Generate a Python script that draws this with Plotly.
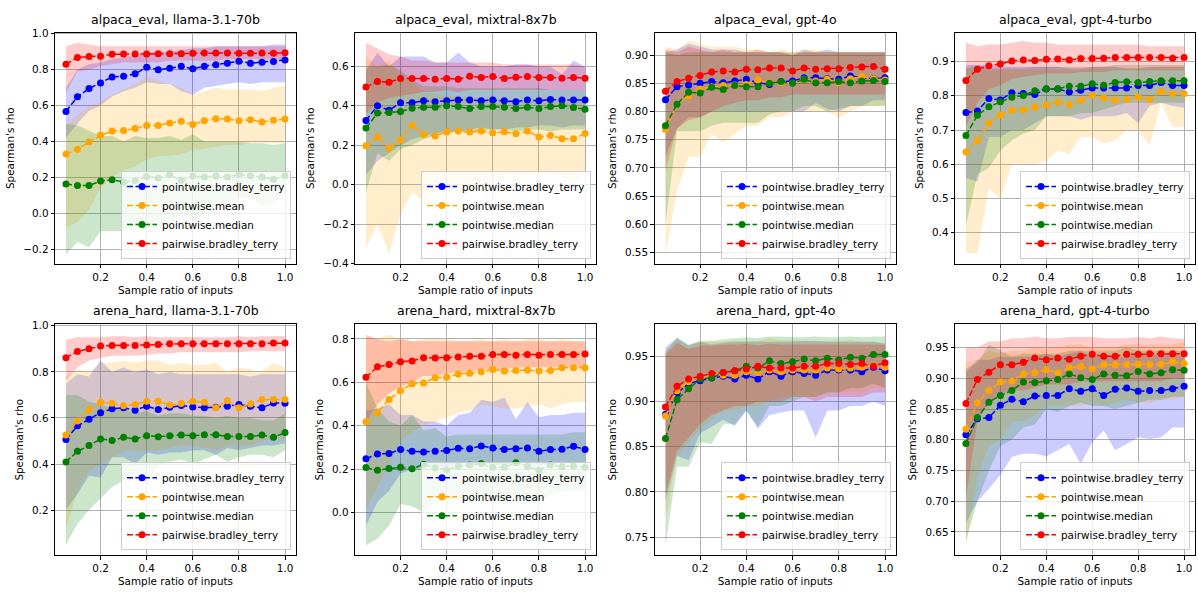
import plotly.graph_objects as go

# ---------------------------------------------------------------------------
# Sample ratios (x) shared by all panels
# ---------------------------------------------------------------------------
ratios = [0.05, 0.10, 0.15, 0.20, 0.25, 0.30, 0.35, 0.40, 0.45, 0.50,
          0.55, 0.60, 0.65, 0.70, 0.75, 0.80, 0.85, 0.90, 0.95, 1.00]

# ---------------------------------------------------------------------------
# alpaca_eval, llama-3.1-70b
# ---------------------------------------------------------------------------
ae_llama_pbt = [0.567, 0.649, 0.695, 0.726, 0.759, 0.763, 0.777, 0.814, 0.800, 0.808,
                0.819, 0.805, 0.819, 0.828, 0.836, 0.847, 0.836, 0.841, 0.845, 0.854]
ae_llama_pbt_lo = [0.42, 0.50, 0.57, 0.60, 0.65, 0.68, 0.70, 0.73, 0.72, 0.72,
                   0.68, 0.66, 0.70, 0.71, 0.72, 0.73, 0.72, 0.73, 0.73, 0.73]
ae_llama_pbt_hi = [0.70, 0.80, 0.83, 0.84, 0.86, 0.87, 0.88, 0.89, 0.90, 0.90,
                   0.91, 0.92, 0.92, 0.93, 0.93, 0.93, 0.93, 0.93, 0.94, 0.94]
ae_llama_pmean = [0.330, 0.357, 0.397, 0.434, 0.458, 0.461, 0.472, 0.489, 0.489, 0.503,
                  0.512, 0.494, 0.516, 0.527, 0.525, 0.516, 0.521, 0.509, 0.518, 0.525]
ae_llama_pmean_lo = [-0.08, -0.05, 0.02, 0.14, 0.20, 0.24, 0.26, 0.30, 0.32, 0.32,
                     0.33, 0.35, 0.36, 0.37, 0.38, 0.38, 0.39, 0.39, 0.39, 0.39]
ae_llama_pmean_hi = [0.49, 0.55, 0.60, 0.62, 0.66, 0.69, 0.72, 0.76, 0.74, 0.72,
                     0.70, 0.66, 0.68, 0.70, 0.69, 0.69, 0.69, 0.68, 0.70, 0.71]
ae_llama_pmed = [0.163, 0.154, 0.154, 0.180, 0.187, 0.174, 0.182, 0.205, 0.196, 0.215,
                 0.184, 0.207, 0.202, 0.207, 0.202, 0.216, 0.209, 0.202, 0.189, 0.209]
ae_llama_pmed_lo = [-0.23, -0.16, -0.19, -0.10, -0.10, -0.10, -0.09, -0.08, -0.07, -0.06,
                    0.00, -0.05, 0.00, 0.03, 0.06, 0.08, 0.09, 0.04, 0.05, 0.15]
ae_llama_pmed_hi = [0.50, 0.49, 0.46, 0.43, 0.43, 0.40, 0.43, 0.42, 0.42, 0.43,
                    0.41, 0.44, 0.40, 0.40, 0.40, 0.40, 0.39, 0.39, 0.38, 0.39]
ae_llama_pair = [0.830, 0.868, 0.873, 0.875, 0.886, 0.887, 0.887, 0.888, 0.889, 0.889,
                 0.889, 0.891, 0.893, 0.893, 0.893, 0.892, 0.891, 0.893, 0.892, 0.894]
ae_llama_pair_lo = [0.67, 0.79, 0.80, 0.82, 0.83, 0.84, 0.84, 0.84, 0.84, 0.85,
                    0.85, 0.85, 0.85, 0.85, 0.86, 0.86, 0.86, 0.86, 0.86, 0.86]
ae_llama_pair_hi = [0.93, 0.95, 0.94, 0.93, 0.93, 0.93, 0.93, 0.93, 0.93, 0.93,
                    0.93, 0.93, 0.93, 0.93, 0.93, 0.93, 0.93, 0.93, 0.93, 0.93]

# ---------------------------------------------------------------------------
# alpaca_eval, mixtral-8x7b
# ---------------------------------------------------------------------------
ae_mixtral_pbt = [0.325, 0.401, 0.377, 0.416, 0.416, 0.426, 0.421, 0.426, 0.429, 0.429,
                  0.426, 0.429, 0.426, 0.421, 0.429, 0.426, 0.432, 0.429, 0.429, 0.429]
ae_mixtral_pbt_lo = [0.05, 0.12, 0.16, 0.20, 0.23, 0.25, 0.26, 0.27, 0.27, 0.28,
                     0.29, 0.28, 0.28, 0.29, 0.29, 0.30, 0.30, 0.29, 0.30, 0.30]
ae_mixtral_pbt_hi = [0.58, 0.67, 0.60, 0.65, 0.65, 0.65, 0.62, 0.62, 0.67, 0.62,
                     0.60, 0.60, 0.60, 0.61, 0.61, 0.60, 0.60, 0.56, 0.63, 0.60]
ae_mixtral_pmean = [0.197, 0.243, 0.185, 0.227, 0.301, 0.255, 0.247, 0.267, 0.272, 0.267,
                    0.272, 0.263, 0.268, 0.258, 0.272, 0.242, 0.250, 0.233, 0.233, 0.260]
ae_mixtral_pmean_lo = [-0.32, -0.20, -0.35, -0.15, -0.04, -0.08, -0.01, 0.00, 0.00, -0.04,
                       0.00, 0.01, 0.04, 0.05, 0.05, 0.04, 0.06, 0.04, 0.01, 0.06]
ae_mixtral_pmean_hi = [0.65, 0.60, 0.63, 0.55, 0.52, 0.47, 0.46, 0.45, 0.45, 0.44,
                       0.44, 0.44, 0.43, 0.43, 0.43, 0.43, 0.43, 0.42, 0.42, 0.43]
ae_mixtral_pmed = [0.288, 0.363, 0.366, 0.371, 0.388, 0.393, 0.393, 0.400, 0.396, 0.386,
                   0.396, 0.396, 0.393, 0.386, 0.393, 0.386, 0.396, 0.400, 0.391, 0.383]
ae_mixtral_pmed_lo = [-0.04, 0.16, 0.12, 0.18, 0.20, 0.23, 0.25, 0.26, 0.27, 0.26,
                      0.27, 0.28, 0.28, 0.27, 0.28, 0.28, 0.27, 0.28, 0.28, 0.28]
ae_mixtral_pmed_hi = [0.60, 0.60, 0.61, 0.58, 0.53, 0.50, 0.50, 0.50, 0.49, 0.49,
                      0.49, 0.49, 0.49, 0.49, 0.49, 0.49, 0.48, 0.48, 0.48, 0.48]
ae_mixtral_pair = [0.496, 0.524, 0.520, 0.539, 0.539, 0.539, 0.535, 0.539, 0.535, 0.550,
                   0.544, 0.549, 0.539, 0.545, 0.549, 0.544, 0.544, 0.540, 0.544, 0.540]
ae_mixtral_pair_lo = [0.36, 0.42, 0.44, 0.45, 0.46, 0.47, 0.47, 0.48, 0.47, 0.48,
                      0.48, 0.48, 0.48, 0.48, 0.48, 0.48, 0.48, 0.48, 0.48, 0.48]
ae_mixtral_pair_hi = [0.72, 0.69, 0.66, 0.65, 0.63, 0.63, 0.62, 0.62, 0.62, 0.62,
                      0.62, 0.62, 0.61, 0.61, 0.61, 0.61, 0.61, 0.61, 0.61, 0.60]

# ---------------------------------------------------------------------------
# alpaca_eval, gpt-4o
# ---------------------------------------------------------------------------
ae_gpt4o_pbt = [0.821, 0.844, 0.847, 0.850, 0.853, 0.851, 0.854, 0.857, 0.851, 0.848,
                0.853, 0.854, 0.860, 0.860, 0.858, 0.857, 0.863, 0.860, 0.858, 0.860]
ae_gpt4o_pbt_lo = [0.72, 0.77, 0.79, 0.79, 0.80, 0.80, 0.80, 0.80, 0.80, 0.80,
                   0.80, 0.80, 0.80, 0.815, 0.805, 0.80, 0.81, 0.81, 0.82, 0.82]
ae_gpt4o_pbt_hi = [0.905, 0.91, 0.92, 0.915, 0.91, 0.91, 0.91, 0.905, 0.905, 0.905,
                   0.905, 0.90, 0.91, 0.905, 0.91, 0.905, 0.905, 0.905, 0.905, 0.905]
ae_gpt4o_pmean = [0.768, 0.813, 0.828, 0.840, 0.844, 0.846, 0.847, 0.848, 0.856, 0.851,
                  0.851, 0.850, 0.857, 0.854, 0.857, 0.851, 0.858, 0.862, 0.858, 0.856]
ae_gpt4o_pmean_lo = [0.545, 0.66, 0.72, 0.72, 0.76, 0.745, 0.76, 0.775, 0.775, 0.79,
                     0.79, 0.80, 0.80, 0.80, 0.80, 0.79, 0.80, 0.81, 0.81, 0.81]
ae_gpt4o_pmean_hi = [0.915, 0.91, 0.925, 0.92, 0.915, 0.915, 0.915, 0.91, 0.91, 0.905,
                     0.91, 0.905, 0.91, 0.91, 0.905, 0.905, 0.905, 0.905, 0.905, 0.905]
ae_gpt4o_pmed = [0.775, 0.813, 0.834, 0.833, 0.843, 0.839, 0.846, 0.844, 0.844, 0.850,
                 0.853, 0.850, 0.857, 0.851, 0.851, 0.853, 0.851, 0.854, 0.855, 0.853]
ae_gpt4o_pmed_lo = [0.60, 0.765, 0.765, 0.765, 0.775, 0.78, 0.78, 0.78, 0.78, 0.795,
                    0.80, 0.80, 0.81, 0.81, 0.80, 0.805, 0.81, 0.81, 0.81, 0.81]
ae_gpt4o_pmed_hi = [0.905, 0.90, 0.905, 0.905, 0.905, 0.905, 0.905, 0.905, 0.905, 0.905,
                    0.905, 0.905, 0.905, 0.905, 0.905, 0.905, 0.905, 0.905, 0.905, 0.905]
ae_gpt4o_pair = [0.836, 0.853, 0.859, 0.864, 0.870, 0.872, 0.870, 0.875, 0.874, 0.877,
                 0.877, 0.872, 0.877, 0.875, 0.876, 0.876, 0.878, 0.879, 0.880, 0.875]
ae_gpt4o_pair_lo = [0.695, 0.77, 0.785, 0.79, 0.80, 0.81, 0.815, 0.82, 0.82, 0.825,
                    0.825, 0.83, 0.83, 0.83, 0.83, 0.83, 0.83, 0.83, 0.83, 0.83]
ae_gpt4o_pair_hi = [0.91, 0.905, 0.915, 0.91, 0.905, 0.91, 0.905, 0.905, 0.91, 0.905,
                    0.905, 0.90, 0.905, 0.905, 0.905, 0.905, 0.905, 0.905, 0.905, 0.905]

# ---------------------------------------------------------------------------
# alpaca_eval, gpt-4-turbo
# ---------------------------------------------------------------------------
ae_gpt4t_pbt = [0.751, 0.756, 0.792, 0.788, 0.809, 0.807, 0.804, 0.820, 0.820, 0.811,
                0.816, 0.823, 0.823, 0.823, 0.823, 0.830, 0.830, 0.839, 0.830, 0.830]
ae_gpt4t_pbt_lo = [0.56, 0.55, 0.68, 0.68, 0.70, 0.70, 0.72, 0.74, 0.74, 0.74,
                   0.73, 0.74, 0.74, 0.74, 0.75, 0.72, 0.77, 0.78, 0.77, 0.765]
ae_gpt4t_pbt_hi = [0.89, 0.89, 0.89, 0.885, 0.885, 0.885, 0.885, 0.885, 0.885, 0.88,
                   0.88, 0.885, 0.885, 0.885, 0.88, 0.88, 0.885, 0.885, 0.885, 0.885]
ae_gpt4t_pmean = [0.636, 0.669, 0.720, 0.744, 0.758, 0.759, 0.767, 0.773, 0.782, 0.775,
                  0.787, 0.802, 0.794, 0.787, 0.789, 0.796, 0.789, 0.813, 0.806, 0.806]
ae_gpt4t_pmean_lo = [0.34, 0.34, 0.53, 0.50, 0.60, 0.60, 0.60, 0.61, 0.64, 0.63,
                     0.68, 0.68, 0.66, 0.67, 0.70, 0.70, 0.655, 0.78, 0.71, 0.71]
ae_gpt4t_pmean_hi = [0.88, 0.88, 0.875, 0.875, 0.875, 0.875, 0.875, 0.875, 0.875, 0.875,
                     0.875, 0.88, 0.88, 0.88, 0.88, 0.88, 0.88, 0.885, 0.885, 0.885]
ae_gpt4t_pmed = [0.684, 0.743, 0.768, 0.783, 0.796, 0.801, 0.815, 0.821, 0.821, 0.828,
                 0.828, 0.835, 0.831, 0.839, 0.841, 0.839, 0.842, 0.844, 0.844, 0.844]
ae_gpt4t_pmed_lo = [0.42, 0.57, 0.59, 0.64, 0.67, 0.69, 0.70, 0.74, 0.74, 0.74,
                    0.75, 0.75, 0.76, 0.77, 0.78, 0.78, 0.78, 0.78, 0.78, 0.78]
ae_gpt4t_pmed_hi = [0.88, 0.89, 0.88, 0.88, 0.88, 0.88, 0.885, 0.885, 0.885, 0.885,
                    0.885, 0.885, 0.885, 0.89, 0.89, 0.89, 0.89, 0.89, 0.89, 0.89]
ae_gpt4t_pair = [0.845, 0.878, 0.888, 0.893, 0.902, 0.905, 0.903, 0.907, 0.908, 0.905,
                 0.909, 0.909, 0.910, 0.912, 0.912, 0.912, 0.912, 0.912, 0.910, 0.912]
ae_gpt4t_pair_lo = [0.71, 0.78, 0.82, 0.83, 0.85, 0.855, 0.86, 0.865, 0.865, 0.865,
                    0.87, 0.87, 0.87, 0.875, 0.875, 0.875, 0.875, 0.875, 0.875, 0.875]
ae_gpt4t_pair_hi = [0.955, 0.945, 0.95, 0.95, 0.955, 0.96, 0.955, 0.955, 0.95, 0.95,
                    0.95, 0.95, 0.95, 0.95, 0.95, 0.95, 0.945, 0.945, 0.945, 0.945]

# ---------------------------------------------------------------------------
# arena_hard, llama-3.1-70b
# ---------------------------------------------------------------------------
ah_llama_pbt = [0.506, 0.566, 0.594, 0.623, 0.640, 0.644, 0.634, 0.651, 0.637, 0.647,
                0.654, 0.648, 0.644, 0.647, 0.651, 0.658, 0.651, 0.644, 0.665, 0.664]
ah_llama_pbt_lo = [0.20, 0.27, 0.35, 0.34, 0.43, 0.43, 0.40, 0.45, 0.44, 0.45,
                   0.45, 0.46, 0.46, 0.44, 0.47, 0.46, 0.47, 0.48, 0.48, 0.49]
ah_llama_pbt_hi = [0.75, 0.79, 0.78, 0.85, 0.80, 0.82, 0.80, 0.81, 0.79, 0.80,
                   0.79, 0.79, 0.79, 0.79, 0.79, 0.79, 0.78, 0.79, 0.79, 0.79]
ah_llama_pmean = [0.526, 0.587, 0.636, 0.668, 0.664, 0.653, 0.658, 0.673, 0.673, 0.656,
                  0.663, 0.673, 0.668, 0.644, 0.675, 0.644, 0.661, 0.680, 0.680, 0.680]
ah_llama_pmean_lo = [0.12, 0.28, 0.37, 0.40, 0.43, 0.46, 0.46, 0.46, 0.46, 0.47,
                     0.48, 0.48, 0.47, 0.46, 0.48, 0.48, 0.48, 0.50, 0.51, 0.51]
ah_llama_pmean_hi = [0.78, 0.81, 0.80, 0.84, 0.84, 0.85, 0.84, 0.85, 0.85, 0.83,
                     0.84, 0.83, 0.83, 0.84, 0.80, 0.82, 0.81, 0.80, 0.84, 0.82]
ah_llama_pmed = [0.409, 0.455, 0.480, 0.509, 0.502, 0.516, 0.509, 0.523, 0.519, 0.523,
                 0.526, 0.523, 0.527, 0.527, 0.520, 0.520, 0.520, 0.526, 0.516, 0.537]
ah_llama_pmed_lo = [0.05, 0.14, 0.20, 0.25, 0.30, 0.33, 0.37, 0.32, 0.39, 0.41,
                    0.42, 0.40, 0.42, 0.44, 0.41, 0.43, 0.44, 0.44, 0.43, 0.46]
ah_llama_pmed_hi = [0.70, 0.70, 0.67, 0.66, 0.64, 0.64, 0.62, 0.63, 0.61, 0.62,
                    0.62, 0.61, 0.61, 0.60, 0.61, 0.60, 0.60, 0.59, 0.59, 0.62]
ah_llama_pair = [0.861, 0.889, 0.900, 0.912, 0.915, 0.915, 0.915, 0.917, 0.919, 0.922,
                 0.922, 0.922, 0.922, 0.922, 0.922, 0.922, 0.922, 0.922, 0.925, 0.925]
ah_llama_pair_lo = [0.76, 0.82, 0.85, 0.86, 0.87, 0.87, 0.87, 0.875, 0.88, 0.88,
                    0.885, 0.885, 0.885, 0.885, 0.885, 0.885, 0.89, 0.89, 0.89, 0.89]
ah_llama_pair_hi = [0.94, 0.95, 0.95, 0.95, 0.955, 0.955, 0.95, 0.955, 0.95, 0.95,
                    0.95, 0.95, 0.95, 0.95, 0.95, 0.955, 0.95, 0.955, 0.955, 0.955]

# ---------------------------------------------------------------------------
# arena_hard, mixtral-8x7b
# ---------------------------------------------------------------------------
ah_mixtral_pbt = [0.249, 0.270, 0.273, 0.291, 0.283, 0.280, 0.283, 0.286, 0.297, 0.295,
                  0.307, 0.298, 0.291, 0.295, 0.298, 0.283, 0.291, 0.292, 0.306, 0.291]
ah_mixtral_pbt_lo = [-0.06, 0.05, 0.10, 0.18, 0.20, 0.20, 0.20, 0.21, 0.22, 0.22,
                     0.23, 0.22, 0.22, 0.22, 0.22, 0.22, 0.22, 0.22, 0.23, 0.23]
ah_mixtral_pbt_hi = [0.47, 0.48, 0.50, 0.45, 0.45, 0.42, 0.42, 0.40, 0.45, 0.46,
                     0.52, 0.51, 0.53, 0.43, 0.51, 0.44, 0.45, 0.45, 0.46, 0.46]
ah_mixtral_pmean = [0.419, 0.461, 0.521, 0.562, 0.594, 0.597, 0.622, 0.624, 0.639, 0.642,
                    0.649, 0.660, 0.652, 0.655, 0.657, 0.652, 0.655, 0.667, 0.667, 0.667]
ah_mixtral_pmean_lo = [0.02, 0.12, 0.22, 0.33, 0.37, 0.40, 0.42, 0.44, 0.46, 0.47,
                       0.50, 0.49, 0.48, 0.48, 0.49, 0.50, 0.48, 0.50, 0.51, 0.51]
ah_mixtral_pmean_hi = [0.81, 0.80, 0.82, 0.80, 0.79, 0.80, 0.80, 0.80, 0.79, 0.79,
                       0.80, 0.79, 0.80, 0.79, 0.80, 0.80, 0.79, 0.80, 0.79, 0.79]
ah_mixtral_pmed = [0.208, 0.196, 0.203, 0.209, 0.202, 0.223, 0.206, 0.197, 0.214, 0.220,
                   0.226, 0.209, 0.209, 0.230, 0.212, 0.196, 0.220, 0.212, 0.215, 0.209]
ah_mixtral_pmed_lo = [-0.15, -0.12, -0.06, 0.04, 0.03, 0.00, 0.05, 0.05, 0.07, 0.05,
                      0.06, 0.08, 0.06, 0.08, 0.06, 0.05, 0.08, 0.10, 0.10, 0.10]
ah_mixtral_pmed_hi = [0.60, 0.48, 0.42, 0.40, 0.45, 0.38, 0.39, 0.35, 0.36, 0.36,
                      0.36, 0.36, 0.36, 0.36, 0.36, 0.36, 0.36, 0.36, 0.37, 0.37]
ah_mixtral_pair = [0.624, 0.672, 0.682, 0.695, 0.699, 0.714, 0.713, 0.714, 0.717, 0.720,
                   0.720, 0.728, 0.728, 0.725, 0.728, 0.725, 0.728, 0.728, 0.728, 0.731]
ah_mixtral_pair_lo = [0.42, 0.50, 0.55, 0.58, 0.60, 0.63, 0.63, 0.64, 0.65, 0.65,
                      0.66, 0.66, 0.66, 0.67, 0.67, 0.67, 0.67, 0.67, 0.67, 0.67]
ah_mixtral_pair_hi = [0.82, 0.80, 0.79, 0.80, 0.79, 0.79, 0.79, 0.79, 0.79, 0.79,
                      0.79, 0.79, 0.79, 0.79, 0.79, 0.79, 0.79, 0.79, 0.79, 0.79]

# ---------------------------------------------------------------------------
# arena_hard, gpt-4o
# ---------------------------------------------------------------------------
ah_gpt4o_pbt = [0.886, 0.909, 0.920, 0.923, 0.926, 0.928, 0.925, 0.929, 0.925, 0.933,
                0.928, 0.933, 0.931, 0.929, 0.935, 0.935, 0.935, 0.933, 0.938, 0.934]
ah_gpt4o_pbt_lo = [0.79, 0.84, 0.835, 0.865, 0.872, 0.88, 0.873, 0.89, 0.87, 0.885,
                   0.888, 0.89, 0.89, 0.86, 0.89, 0.89, 0.895, 0.895, 0.90, 0.895]
ah_gpt4o_pbt_hi = [0.96, 0.97, 0.962, 0.966, 0.963, 0.965, 0.966, 0.966, 0.966, 0.966,
                   0.966, 0.966, 0.967, 0.967, 0.966, 0.966, 0.966, 0.966, 0.966, 0.964]
ah_gpt4o_pmean = [0.884, 0.912, 0.922, 0.926, 0.929, 0.929, 0.929, 0.933, 0.932, 0.935,
                  0.933, 0.935, 0.935, 0.935, 0.937, 0.936, 0.937, 0.938, 0.940, 0.938]
ah_gpt4o_pmean_lo = [0.77, 0.84, 0.855, 0.87, 0.88, 0.89, 0.89, 0.895, 0.895, 0.90,
                     0.905, 0.905, 0.905, 0.905, 0.91, 0.91, 0.91, 0.91, 0.915, 0.915]
ah_gpt4o_pmean_hi = [0.955, 0.968, 0.962, 0.966, 0.966, 0.966, 0.967, 0.967, 0.967, 0.970,
                     0.968, 0.968, 0.967, 0.966, 0.967, 0.967, 0.968, 0.966, 0.966, 0.965]
ah_gpt4o_pmed = [0.859, 0.902, 0.914, 0.925, 0.926, 0.932, 0.934, 0.939, 0.937, 0.945,
                 0.942, 0.944, 0.947, 0.945, 0.948, 0.946, 0.949, 0.948, 0.952, 0.952]
ah_gpt4o_pmed_lo = [0.74, 0.828, 0.828, 0.855, 0.853, 0.875, 0.875, 0.89, 0.872, 0.895,
                    0.895, 0.90, 0.905, 0.905, 0.91, 0.91, 0.915, 0.915, 0.92, 0.915]
ah_gpt4o_pmed_hi = [0.955, 0.971, 0.963, 0.967, 0.967, 0.969, 0.970, 0.971, 0.970, 0.972,
                    0.972, 0.971, 0.971, 0.972, 0.971, 0.971, 0.972, 0.971, 0.972, 0.972]
ah_gpt4o_pair = [0.894, 0.917, 0.925, 0.928, 0.931, 0.932, 0.934, 0.936, 0.939, 0.937,
                 0.937, 0.937, 0.939, 0.939, 0.942, 0.942, 0.941, 0.942, 0.939, 0.943]
ah_gpt4o_pair_lo = [0.797, 0.845, 0.86, 0.875, 0.885, 0.89, 0.895, 0.895, 0.90, 0.90,
                    0.90, 0.905, 0.905, 0.90, 0.905, 0.905, 0.905, 0.905, 0.91, 0.91]
ah_gpt4o_pair_hi = [0.952, 0.965, 0.958, 0.962, 0.962, 0.963, 0.963, 0.964, 0.962, 0.964,
                    0.963, 0.963, 0.963, 0.963, 0.963, 0.963, 0.963, 0.963, 0.963, 0.963]

# ---------------------------------------------------------------------------
# arena_hard, gpt-4-turbo
# ---------------------------------------------------------------------------
ah_gpt4t_pbt = [0.808, 0.834, 0.836, 0.856, 0.866, 0.862, 0.871, 0.872, 0.872, 0.883,
                0.879, 0.883, 0.872, 0.882, 0.884, 0.879, 0.880, 0.880, 0.883, 0.887]
ah_gpt4t_pbt_lo = [0.665, 0.70, 0.72, 0.743, 0.772, 0.777, 0.777, 0.773, 0.783, 0.793,
                   0.761, 0.796, 0.815, 0.783, 0.793, 0.804, 0.801, 0.804, 0.82, 0.82]
ah_gpt4t_pbt_hi = [0.91, 0.93, 0.93, 0.935, 0.935, 0.935, 0.935, 0.94, 0.935, 0.94,
                   0.945, 0.935, 0.94, 0.935, 0.935, 0.94, 0.935, 0.94, 0.94, 0.935]
ah_gpt4t_pmean = [0.817, 0.860, 0.880, 0.894, 0.895, 0.907, 0.909, 0.914, 0.909, 0.917,
                  0.919, 0.915, 0.922, 0.922, 0.922, 0.923, 0.922, 0.923, 0.927, 0.924]
ah_gpt4t_pmean_lo = [0.625, 0.74, 0.79, 0.80, 0.83, 0.83, 0.84, 0.855, 0.855, 0.855,
                     0.855, 0.86, 0.855, 0.86, 0.865, 0.86, 0.86, 0.865, 0.865, 0.87]
ah_gpt4t_pmean_hi = [0.925, 0.93, 0.945, 0.94, 0.945, 0.945, 0.95, 0.948, 0.95, 0.955,
                     0.955, 0.95, 0.95, 0.95, 0.955, 0.955, 0.955, 0.955, 0.955, 0.96]
ah_gpt4t_pmed = [0.794, 0.836, 0.861, 0.872, 0.880, 0.894, 0.893, 0.896, 0.898, 0.907,
                 0.901, 0.898, 0.907, 0.905, 0.904, 0.911, 0.907, 0.909, 0.914, 0.913]
ah_gpt4t_pmed_lo = [0.635, 0.70, 0.75, 0.79, 0.80, 0.82, 0.825, 0.85, 0.845, 0.855,
                    0.86, 0.855, 0.855, 0.85, 0.855, 0.86, 0.865, 0.865, 0.87, 0.87]
ah_gpt4t_pmed_hi = [0.915, 0.925, 0.955, 0.945, 0.935, 0.94, 0.94, 0.94, 0.94, 0.945,
                    0.945, 0.945, 0.945, 0.945, 0.95, 0.945, 0.945, 0.945, 0.945, 0.945]
ah_gpt4t_pair = [0.859, 0.898, 0.910, 0.922, 0.922, 0.926, 0.933, 0.930, 0.933, 0.931,
                 0.936, 0.939, 0.936, 0.936, 0.939, 0.939, 0.940, 0.940, 0.940, 0.940]
ah_gpt4t_pair_lo = [0.705, 0.83, 0.86, 0.875, 0.88, 0.88, 0.885, 0.89, 0.89, 0.89,
                    0.895, 0.895, 0.895, 0.895, 0.895, 0.895, 0.895, 0.895, 0.90, 0.90]
ah_gpt4t_pair_hi = [0.95, 0.95, 0.96, 0.96, 0.965, 0.965, 0.968, 0.965, 0.965, 0.967,
                    0.967, 0.967, 0.965, 0.965, 0.965, 0.967, 0.965, 0.968, 0.965, 0.964]

# ---------------------------------------------------------------------------
# Labels and tick settings
# ---------------------------------------------------------------------------
method_names = ["pointwise.bradley_terry", "pointwise.mean",
                "pointwise.median", "pairwise.bradley_terry"]
method_colors = [(0, 0, 255), (255, 165, 0), (0, 128, 0), (255, 0, 0)]

panel_titles = ["alpaca_eval, llama-3.1-70b", "alpaca_eval, mixtral-8x7b",
                "alpaca_eval, gpt-4o", "alpaca_eval, gpt-4-turbo",
                "arena_hard, llama-3.1-70b", "arena_hard, mixtral-8x7b",
                "arena_hard, gpt-4o", "arena_hard, gpt-4-turbo"]

x_ticks = [0.2, 0.4, 0.6, 0.8, 1.0]
y_ticks = [
    [-0.2, 0.0, 0.2, 0.4, 0.6, 0.8, 1.0],
    [-0.4, -0.2, 0.0, 0.2, 0.4, 0.6],
    [0.55, 0.60, 0.65, 0.70, 0.75, 0.80, 0.85, 0.90],
    [0.4, 0.5, 0.6, 0.7, 0.8, 0.9],
    [0.2, 0.4, 0.6, 0.8, 1.0],
    [0.0, 0.2, 0.4, 0.6, 0.8],
    [0.75, 0.80, 0.85, 0.90, 0.95],
    [0.65, 0.70, 0.75, 0.80, 0.85, 0.90, 0.95],
]
y_tick_decimals = [1, 1, 2, 1, 1, 1, 2, 2]
y_ranges = [
    [-0.282, 1.007], [-0.402, 0.772], [0.530, 0.940], [0.309, 0.985],
    [0.004, 1.007], [-0.196, 0.868], [0.730, 0.9855], [0.612, 0.988],
]

panels = [
    [(ae_llama_pbt, ae_llama_pbt_lo, ae_llama_pbt_hi),
     (ae_llama_pmean, ae_llama_pmean_lo, ae_llama_pmean_hi),
     (ae_llama_pmed, ae_llama_pmed_lo, ae_llama_pmed_hi),
     (ae_llama_pair, ae_llama_pair_lo, ae_llama_pair_hi)],
    [(ae_mixtral_pbt, ae_mixtral_pbt_lo, ae_mixtral_pbt_hi),
     (ae_mixtral_pmean, ae_mixtral_pmean_lo, ae_mixtral_pmean_hi),
     (ae_mixtral_pmed, ae_mixtral_pmed_lo, ae_mixtral_pmed_hi),
     (ae_mixtral_pair, ae_mixtral_pair_lo, ae_mixtral_pair_hi)],
    [(ae_gpt4o_pbt, ae_gpt4o_pbt_lo, ae_gpt4o_pbt_hi),
     (ae_gpt4o_pmean, ae_gpt4o_pmean_lo, ae_gpt4o_pmean_hi),
     (ae_gpt4o_pmed, ae_gpt4o_pmed_lo, ae_gpt4o_pmed_hi),
     (ae_gpt4o_pair, ae_gpt4o_pair_lo, ae_gpt4o_pair_hi)],
    [(ae_gpt4t_pbt, ae_gpt4t_pbt_lo, ae_gpt4t_pbt_hi),
     (ae_gpt4t_pmean, ae_gpt4t_pmean_lo, ae_gpt4t_pmean_hi),
     (ae_gpt4t_pmed, ae_gpt4t_pmed_lo, ae_gpt4t_pmed_hi),
     (ae_gpt4t_pair, ae_gpt4t_pair_lo, ae_gpt4t_pair_hi)],
    [(ah_llama_pbt, ah_llama_pbt_lo, ah_llama_pbt_hi),
     (ah_llama_pmean, ah_llama_pmean_lo, ah_llama_pmean_hi),
     (ah_llama_pmed, ah_llama_pmed_lo, ah_llama_pmed_hi),
     (ah_llama_pair, ah_llama_pair_lo, ah_llama_pair_hi)],
    [(ah_mixtral_pbt, ah_mixtral_pbt_lo, ah_mixtral_pbt_hi),
     (ah_mixtral_pmean, ah_mixtral_pmean_lo, ah_mixtral_pmean_hi),
     (ah_mixtral_pmed, ah_mixtral_pmed_lo, ah_mixtral_pmed_hi),
     (ah_mixtral_pair, ah_mixtral_pair_lo, ah_mixtral_pair_hi)],
    [(ah_gpt4o_pbt, ah_gpt4o_pbt_lo, ah_gpt4o_pbt_hi),
     (ah_gpt4o_pmean, ah_gpt4o_pmean_lo, ah_gpt4o_pmean_hi),
     (ah_gpt4o_pmed, ah_gpt4o_pmed_lo, ah_gpt4o_pmed_hi),
     (ah_gpt4o_pair, ah_gpt4o_pair_lo, ah_gpt4o_pair_hi)],
    [(ah_gpt4t_pbt, ah_gpt4t_pbt_lo, ah_gpt4t_pbt_hi),
     (ah_gpt4t_pmean, ah_gpt4t_pmean_lo, ah_gpt4t_pmean_hi),
     (ah_gpt4t_pmed, ah_gpt4t_pmed_lo, ah_gpt4t_pmed_hi),
     (ah_gpt4t_pair, ah_gpt4t_pair_lo, ah_gpt4t_pair_hi)],
]

# ---------------------------------------------------------------------------
# Page geometry (pixels) for the 2 x 4 grid of axes
# ---------------------------------------------------------------------------
W, H = 1198, 593
col_px = [(55, 296), (355, 596), (654.5, 896), (955, 1195)]
row_px = [(28, 263.3), (324.7, 559.7)]

FONT = "DejaVu Sans"
TICK_FS = 10.4
TITLE_FS = 12.5
GRID = "#b0b0b0"


def fmt_tick(v, dec):
    s = f"{v:.{dec}f}"
    return s.replace("-", "\u2212")


fig = go.Figure()
layout = dict(
    width=W, height=H,
    margin=dict(l=0, r=0, t=0, b=0),
    paper_bgcolor="white", plot_bgcolor="white",
    font=dict(family=FONT, size=TICK_FS, color="black"),
    annotations=[],
)

for k in range(8):
    r, c = divmod(k, 4)
    idx = "" if k == 0 else str(k + 1)
    xa, ya = "x" + idx, "y" + idx
    x0, x1 = col_px[c]
    top, bot = row_px[r]

    # confidence bands first (all below the lines)
    for (mean, lo, hi), col in zip(panels[k], method_colors):
        fig.add_trace(go.Scatter(
            x=ratios + ratios[::-1], y=hi + lo[::-1],
            fill="toself", fillcolor=f"rgba({col[0]},{col[1]},{col[2]},0.2)",
            mode="lines", line=dict(width=0), hoverinfo="skip",
            showlegend=False, xaxis=xa, yaxis=ya,
        ))
    legend_id = "legend" + idx
    for (mean, lo, hi), col, name in zip(panels[k], method_colors, method_names):
        rgb = f"rgb({col[0]},{col[1]},{col[2]})"
        fig.add_trace(go.Scatter(
            x=ratios, y=mean, name=name, mode="lines+markers",
            line=dict(color=rgb, width=1.5, dash="6px,2.5px"),
            marker=dict(color=rgb, size=7),
            xaxis=xa, yaxis=ya, legend=legend_id,
        ))

    dec = y_tick_decimals[k]
    axis_common = dict(
        showline=True, linecolor="black", linewidth=0.8, mirror=True,
        ticks="outside", ticklen=3.5, tickwidth=0.8, tickcolor="black",
        showgrid=True, gridcolor=GRID, gridwidth=0.8, zeroline=False,
        tickfont=dict(family=FONT, size=TICK_FS, color="black"),
    )
    layout["xaxis" + idx] = dict(
        axis_common,
        domain=[x0 / W, x1 / W], anchor=ya, range=[0.0025, 1.0475],
        tickvals=x_ticks, ticktext=[f"{v:.1f}" for v in x_ticks],
        title=dict(text="Sample ratio of inputs", standoff=4,
                   font=dict(family=FONT, size=TICK_FS, color="black")),
    )
    layout["yaxis" + idx] = dict(
        axis_common,
        domain=[1 - bot / H, 1 - top / H], anchor=xa, range=y_ranges[k],
        tickvals=y_ticks[k], ticktext=[fmt_tick(v, dec) for v in y_ticks[k]],
        title=dict(text="Spearman's rho", standoff=6,
                   font=dict(family=FONT, size=TICK_FS, color="black")),
    )
    layout[legend_id] = dict(
        x=(x1 - 5) / W, y=1 - (bot - 5) / H, xanchor="right", yanchor="bottom",
        bgcolor="rgba(255,255,255,0.8)", bordercolor="#cccccc", borderwidth=1,
        font=dict(family=FONT, size=TICK_FS, color="black"),
        tracegroupgap=0, itemwidth=30,
    )
    layout["annotations"].append(dict(
        text=panel_titles[k], x=(x0 + x1) / 2 / W, y=1 - top / H,
        xref="paper", yref="paper", xanchor="center", yanchor="bottom",
        yshift=4, showarrow=False,
        font=dict(family=FONT, size=TITLE_FS, color="black"),
    ))

fig.update_layout(**layout)
fig.write_html("out.html")
